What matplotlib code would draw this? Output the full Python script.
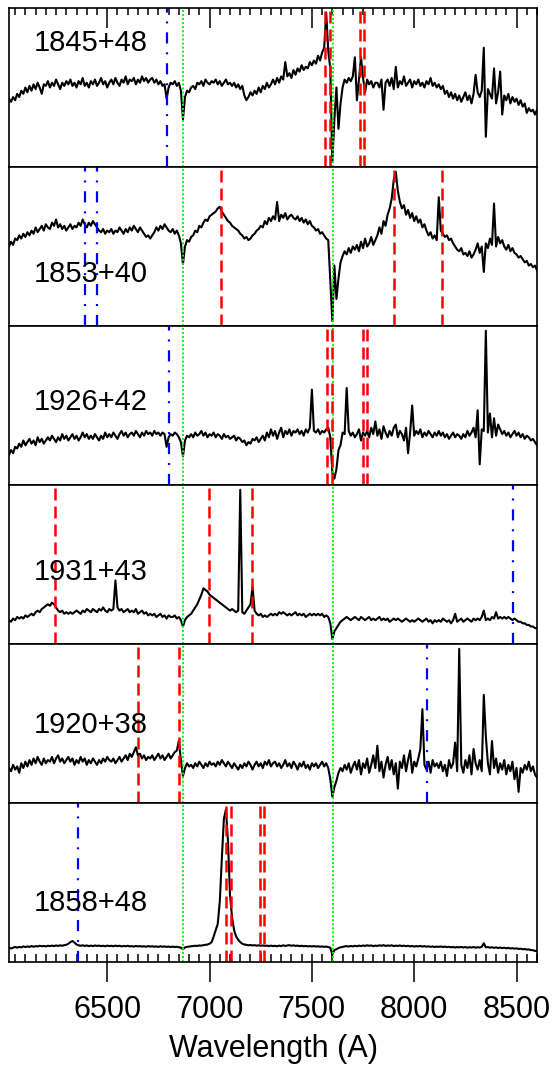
import numpy as np
import matplotlib
matplotlib.use("Agg")
import matplotlib.pyplot as plt
from matplotlib.ticker import MultipleLocator

plt.rcParams['font.family'] = ['Liberation Sans', 'DejaVu Sans']

# Wavelength grid of the spectra (Angstrom)
wave = np.arange(6020, 8601, 10)

# Relative flux of each object, one value per grid point
flux_1845 = [
    43, 41, 44, 42, 46, 44, 48, 46, 50, 47,
    51, 48, 52, 49, 53, 50, 46, 52, 51, 54,
    50, 53, 51, 55, 52, 49, 53, 51, 54, 52,
    55, 51, 53, 50, 54, 52, 56, 51, 53, 50,
    54, 52, 55, 51, 53, 56, 52, 54, 50, 53,
    55, 52, 56, 53, 51, 55, 53, 57, 52, 55,
    54, 56, 52, 55, 53, 57, 54, 56, 53, 55,
    56, 53, 55, 52, 54, 51, 52, 43, 50, 53,
    52, 54, 51, 53, 48, 30, 44, 48, 47, 50,
    51, 49, 53, 52, 54, 51, 55, 53, 52, 54,
    53, 55, 52, 54, 51, 53, 55, 52, 53, 51,
    53, 50, 52, 49, 51, 45, 42, 44, 47, 45,
    48, 46, 50, 47, 51, 49, 53, 50, 52, 55,
    52, 56, 53, 57, 55, 66, 57, 59, 56, 61,
    58, 62, 60, 64, 61, 63, 62, 66, 64, 67,
    65, 70, 67, 72, 75, 97, 73, 62, 3, 30,
    50, 24, 40, 50, 55, 53, 56, 54, 57, 69,
    42, 55, 69, 56, 47, 55, 52, 54, 50, 53,
    53, 50, 55, 36, 53, 55, 51, 56, 49, 63,
    50, 54, 52, 57, 51, 53, 55, 50, 54, 52,
    55, 51, 53, 50, 54, 52, 56, 51, 53, 50,
    52, 49, 51, 46, 48, 44, 47, 43, 46, 42,
    45, 41, 44, 47, 42, 45, 40, 46, 58, 47,
    44, 48, 75, 19, 49, 46, 43, 62, 40, 47,
    60, 33, 45, 42, 46, 40, 44, 41, 43, 39,
    42, 38, 40, 34, 37, 35, 36, 33, 36,
]

flux_1853 = [
    50, 53, 51, 55, 54, 57, 55, 58, 56, 59,
    57, 60, 58, 62, 59, 61, 63, 60, 64, 62,
    61, 65, 63, 67, 62, 64, 61, 63, 60, 62,
    64, 61, 63, 62, 65, 63, 67, 64, 62, 65,
    63, 66, 64, 62, 60, 59, 61, 58, 60, 59,
    61, 58, 60, 59, 62, 60, 58, 61, 59, 62,
    60, 63, 61, 59, 62, 60, 58, 56, 57, 55,
    57, 59, 62, 60, 63, 61, 64, 62, 60, 59,
    61, 58, 60, 57, 52, 39, 50, 54, 53, 56,
    57, 60, 59, 63, 62, 65, 67, 66, 69, 70,
    71, 72, 74, 75, 72, 70, 68, 66, 65, 63,
    62, 61, 60, 58, 57, 55, 56, 54, 55, 57,
    58, 60, 61, 63, 62, 66, 64, 68, 66, 69,
    67, 78, 66, 70, 68, 71, 67, 69, 70, 68,
    67, 69, 66, 68, 65, 67, 64, 66, 63, 62,
    60, 61, 58, 59, 57, 55, 54, 28, 3, 38,
    17, 30, 40, 44, 47, 45, 49, 46, 50, 48,
    51, 47, 53, 49, 55, 50, 52, 56, 51, 54,
    57, 62, 58, 66, 63, 70, 74, 80, 92, 97,
    85, 78, 74, 76, 70, 73, 68, 71, 66, 69,
    65, 67, 62, 64, 60, 57, 59, 55, 57, 54,
    81, 60, 58, 56, 57, 54, 55, 52, 50, 48,
    47, 49, 45, 46, 44, 47, 43, 45, 48, 52,
    46, 50, 34, 52, 49, 55, 51, 77, 50, 56,
    52, 54, 50, 48, 51, 47, 49, 46, 45, 43,
    44, 42, 40, 41, 38, 39, 37, 38, 35,
]

flux_1926 = [
    19, 22, 20, 24, 23, 26, 24, 28, 25, 27,
    29, 26, 28, 25, 30, 27, 29, 26, 28, 30,
    28, 31, 29, 27, 30, 28, 32, 29, 31, 28,
    30, 32, 29, 31, 28, 30, 33, 30, 32, 29,
    31, 29, 32, 30, 28, 31, 29, 33, 30, 32,
    30, 33, 31, 29, 32, 34, 31, 33, 30, 32,
    33, 31, 34, 32, 30, 33, 31, 34, 32, 33,
    31, 34, 32, 33, 31, 33, 32, 24, 30, 32,
    31, 33, 32, 30, 27, 18, 28, 31, 30, 32,
    30, 33, 31, 32, 34, 31, 33, 30, 32, 31,
    33, 30, 32, 31, 29, 32, 30, 31, 29, 30,
    31, 28, 30, 29, 27, 28, 25, 27, 26, 29,
    28, 30, 27, 29, 31, 28, 33, 30, 35, 31,
    34, 29, 33, 36, 30, 34, 32, 35, 31, 34,
    33, 35, 32, 34, 31, 35, 33, 36, 60, 34,
    33, 35, 32, 34, 33, 35, 36, 30, 8, 4,
    10, 22, 25, 33, 32, 61, 34, 31, 33, 30,
    32, 35, 28, 33, 31, 34, 30, 36, 32, 40,
    31, 35, 29, 37, 33, 30, 34, 31, 36, 38,
    30, 34, 32, 28, 36, 20, 33, 50, 31, 34,
    32, 35, 30, 33, 31, 34, 32, 30, 33, 31,
    34, 31, 33, 30, 32, 29, 31, 33, 30, 32,
    31, 29, 32, 30, 34, 31, 33, 36, 30, 47,
    13, 35, 34, 97, 33, 45, 30, 42, 31, 38,
    35, 32, 34, 31, 33, 30, 32, 34, 31, 33,
    30, 32, 29, 31, 30, 28, 29, 27, 25,
]

flux_1931 = [
    15, 14, 16, 15, 17, 16, 17, 16, 18, 17,
    18, 19, 18, 20, 21, 20, 22, 23, 24, 25,
    24, 26, 25, 23, 21, 20, 21, 19, 20, 19,
    20, 19, 20, 21, 20, 19, 21, 20, 22, 21,
    20, 22, 21, 20, 22, 21, 23, 21, 20, 22,
    21, 22, 40, 23, 21, 22, 20, 21, 22, 20,
    21, 20, 22, 19, 20, 21, 19, 20, 18, 19,
    18, 19, 17, 18, 19, 17, 18, 16, 18, 17,
    17, 18, 16, 17, 15, 11, 15, 17, 18, 19,
    21, 23, 25, 28, 31, 35, 34, 33, 31, 30,
    29, 28, 27, 26, 25, 24, 23, 22, 21, 22,
    21, 20, 21, 97, 20, 19, 21, 23, 25, 36,
    21, 19, 18, 19, 17, 18, 17, 18, 19, 18,
    19, 18, 20, 19, 20, 19, 18, 19, 18, 19,
    20, 18, 19, 18, 19, 17, 18, 19, 18, 19,
    18, 19, 18, 19, 17, 18, 17, 13, 3, 8,
    10, 12, 14, 15, 16, 17, 16, 15, 16, 17,
    16, 15, 17, 16, 15, 16, 17, 15, 16, 15,
    16, 17, 15, 16, 15, 16, 14, 15, 16, 15,
    16, 15, 14, 15, 16, 15, 14, 15, 14, 15,
    16, 15, 14, 15, 16, 14, 15, 13, 15, 14,
    15, 14, 16, 15, 14, 15, 13, 15, 19, 14,
    15, 16, 14, 15, 16, 15, 14, 16, 15, 16,
    15, 17, 21, 15, 16, 15, 17, 16, 20, 16,
    17, 16, 17, 16, 17, 16, 15, 16, 15, 14,
    14, 13, 13, 12, 12, 11, 11, 10, 10,
]

flux_1920 = [
    22, 20, 24, 21, 23, 19, 25, 22, 26, 23,
    27, 24, 28, 25, 29, 26, 24, 28, 25, 27,
    26, 29, 25, 28, 30, 26, 28, 25, 27, 29,
    26, 28, 24, 27, 25, 29, 26, 28, 24, 27,
    25, 28, 26, 24, 27, 25, 28, 26, 29, 27,
    26, 28, 25, 27, 29, 26, 28, 30, 27, 31,
    29, 32, 35, 30, 31, 28, 30, 27, 29, 28,
    30, 27, 29, 31, 28, 30, 27, 29, 31, 28,
    30, 32, 33, 39, 27, 17, 22, 25, 23, 24,
    22, 25, 23, 26, 24, 22, 25, 23, 26, 24,
    25, 23, 26, 24, 27, 25, 23, 26, 24, 22,
    25, 23, 21, 24, 22, 25, 23, 26, 24, 21,
    24, 26, 23, 25, 22, 26, 24, 27, 23, 25,
    26, 23, 25, 22, 24, 27, 23, 25, 22, 26,
    24, 21, 25, 23, 26, 22, 24, 21, 25, 23,
    25, 22, 24, 26, 23, 25, 22, 15, 4, 10,
    14, 19, 22, 20, 24, 21, 25, 19, 23, 26,
    21, 27, 18, 25, 22, 28, 19, 24, 30, 22,
    36, 20, 26, 16, 24, 29, 21, 27, 18, 25,
    9, 26, 22, 30, 20, 27, 33, 19, 26, 23,
    28, 34, 59, 24, 21, 26, 19, 27, 23, 25,
    22, 26, 20, 24, 17, 27, 22, 25, 38, 20,
    97, 24, 19, 27, 22, 30, 18, 34, 25, 21,
    27, 20, 68, 42, 25, 18, 39, 22, 28, 19,
    25, 21, 27, 18, 24, 20, 26, 15, 22, 7,
    22, 19, 24, 21, 26, 20, 23, 18, 16,
]

flux_1858 = [
    9.0, 8.5, 9.0, 9.5, 9.0, 9.5, 9.2, 9.8, 9.4, 9.8,
    9.5, 10.0, 9.6, 10.0, 9.8, 10.2, 9.9, 10.1, 9.8, 10.2,
    10.0, 10.3, 10.0, 10.4, 10.1, 10.5, 10.2, 10.6, 10.8, 11.5,
    12.5, 13.2, 12.2, 11.0, 10.5, 10.2, 10.5, 10.1, 10.4, 10.0,
    10.3, 10.0, 10.4, 10.1, 10.3, 10.0, 10.2, 9.9, 10.3, 10.0,
    10.2, 9.9, 10.3, 10.0, 10.2, 9.8, 10.1, 9.9, 10.2, 9.8,
    10.0, 9.7, 10.1, 9.8, 10.0, 9.7, 9.9, 9.6, 10.0, 9.7,
    9.9, 9.6, 9.8, 9.5, 9.9, 9.6, 9.8, 9.5, 9.7, 9.4,
    9.7, 9.4, 9.6, 9.3, 9.0, 8.0, 9.2, 9.5, 9.7, 9.9,
    10.0, 10.2, 10.1, 10.4, 10.3, 10.6, 10.8, 11.0, 11.5, 12.5,
    16.0, 20.0, 24.0, 38.0, 65.0, 90.0, 96.0, 76.0, 42.0, 28.0,
    20.0, 16.0, 14.0, 12.5, 11.5, 11.0, 10.8, 10.5, 10.7, 10.4,
    10.6, 10.3, 10.5, 10.2, 10.4, 10.1, 10.3, 10.0, 10.3, 10.0,
    10.2, 9.9, 10.3, 10.0, 10.5, 10.1, 10.4, 10.6, 10.2, 10.5,
    10.1, 10.3, 10.0, 10.2, 9.9, 10.1, 9.8, 10.0, 9.8, 10.0,
    9.7, 9.9, 9.6, 9.8, 9.5, 9.7, 9.4, 9.0, 4.6, 7.5,
    8.0, 8.8, 9.2, 9.5, 9.8, 10.0, 9.7, 10.1, 9.8, 10.2,
    9.9, 10.3, 10.0, 10.4, 10.1, 10.5, 10.2, 10.4, 10.0, 10.3,
    10.1, 10.5, 10.2, 10.6, 10.1, 10.4, 10.2, 10.5, 10.0, 10.3,
    10.1, 10.4, 10.0, 10.3, 9.9, 10.2, 9.8, 10.1, 9.7, 10.0,
    9.8, 10.1, 9.7, 10.0, 9.6, 9.9, 9.5, 9.8, 9.4, 9.7,
    9.5, 9.8, 9.4, 9.7, 9.3, 9.6, 9.2, 9.5, 9.1, 9.4,
    9.2, 9.5, 9.1, 9.4, 9.0, 9.3, 9.1, 9.4, 9.0, 9.3,
    9.1, 9.5, 11.8, 9.2, 9.4, 9.0, 9.3, 8.9, 9.2, 8.8,
    9.1, 8.7, 9.0, 8.6, 8.9, 8.5, 8.7, 8.4, 8.6, 8.2,
    8.4, 8.0, 8.2, 7.8, 7.9, 7.5, 7.4, 7.0, 6.8,
]

names = ['1845+48', '1853+40', '1926+42', '1931+43', '1920+38', '1858+48']
spectra = [flux_1845, flux_1853, flux_1926, flux_1931, flux_1920, flux_1858]

# Telluric bands, same in every panel
telluric = [6870, 7605]
# Redshifted emission lines (red) and other features (blue) per object
red_lines = [
    [7562, 7589, 7736, 7757],
    [7054, 7901, 8137],
    [7575, 7597, 7750, 7767],
    [6247, 6995, 7207],
    [6651, 6851],
    [7082, 7104, 7247, 7264],
]
blue_lines = [
    [6790],
    [6392, 6451],
    [6802],
    [8481],
    [8062],
    [6356],
]
# vertical place of each name inside its panel (fraction)
label_y = [0.78, 0.33, 0.52, 0.45, 0.49, 0.37]

fig, axes = plt.subplots(6, 1, figsize=(5.55, 10.69), dpi=100, sharex=True)
fig.subplots_adjust(left=9 / 555, right=537 / 555, top=1 - 8 / 1069,
                    bottom=1 - 962 / 1069, hspace=0)

for i, ax in enumerate(axes):
    ax.plot(wave, spectra[i], color='black', lw=1.5)
    for w in telluric:
        ax.axvline(w, color='#00ff00', lw=1.4, ls=(0, (1, 1.1)))
    for w in red_lines[i]:
        ax.axvline(w, color='#ff0000', lw=1.8, ls=(0, (4.8, 2.4)))
    for w in blue_lines[i]:
        ax.axvline(w, color='#0000ff', lw=1.6, ls=(0, (5, 4, 0.9, 4)))
    ax.text(0.047, label_y[i], names[i], transform=ax.transAxes,
            fontsize=21, ha='left', va='center')
    ax.set_xlim(6020, 8600)
    ax.set_ylim(0, 100)
    ax.set_yticks([])
    for s in ax.spines.values():
        s.set_linewidth(1.2)
    ax.xaxis.set_major_locator(MultipleLocator(500))
    ax.xaxis.set_minor_locator(MultipleLocator(50))
    ax.tick_params(axis='x', which='both', bottom=False, top=False,
                   labelbottom=False, labeltop=False)

# ticks along the top of the first panel, all pointing in
top = axes[0]
top.tick_params(axis='x', which='both', top=True, direction='in', width=1.1)
top.tick_params(axis='x', which='major', length=14.5)
top.tick_params(axis='x', which='minor', length=5)

# bottom panel: long ticks out with labels, short ticks in
bot = axes[-1]
bot.xaxis.remove_overlapping_locs = False
bot.tick_params(axis='x', which='major', bottom=True, direction='out',
                length=14.5, width=1.1, labelbottom=True, labelsize=22, pad=9)
bot.tick_params(axis='x', which='minor', bottom=True, direction='in',
                length=5.5, width=1.1)
bot.set_xlabel('Wavelength (A)', fontsize=22)
bot.xaxis.set_label_coords(0.5, -0.45)

fig.savefig('out.png', dpi=100)
